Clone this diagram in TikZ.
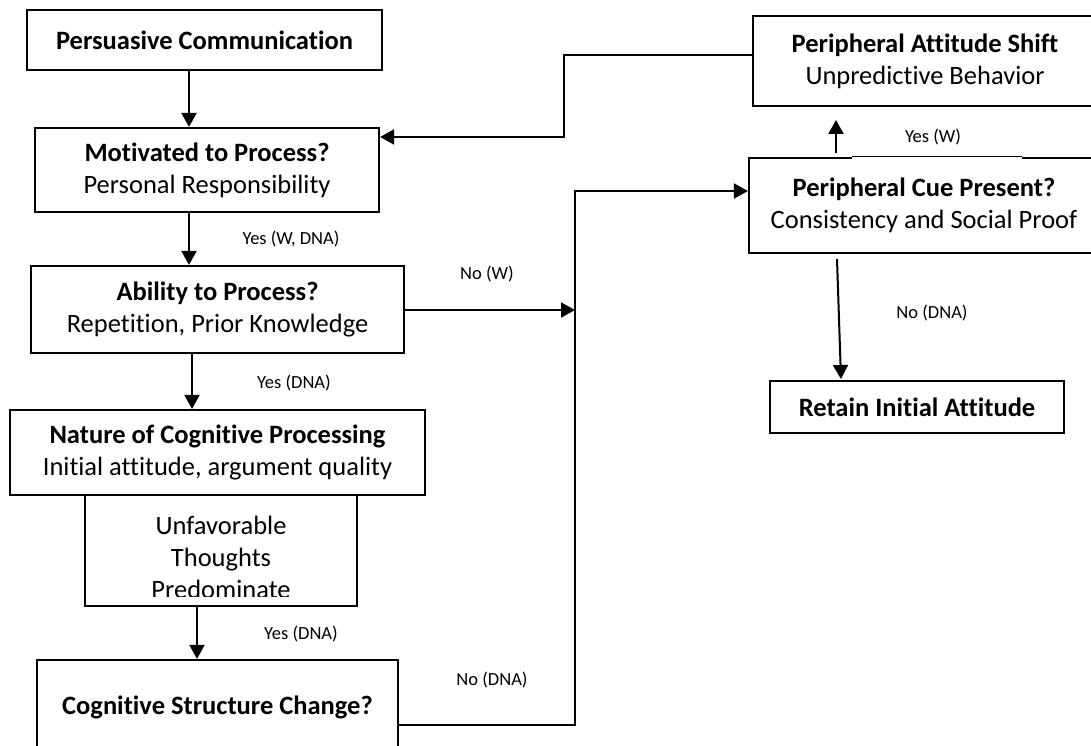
\documentclass[tikz,border=0pt]{standalone}
\usepackage{fontspec}
\setmainfont{Carlito}[Ligatures={NoCommon}]
\usetikzlibrary{arrows.meta}
\tikzset{
  box/.style={draw=black, line width=2.2pt, inner sep=0pt, align=center,
    font=\fontsize{26.5}{32}\selectfont},
  arr/.style={line width=2pt, -{Triangle[length=14pt,width=15pt]}},
  conn/.style={line width=2pt},
  lbl/.style={inner sep=0pt, font=\fontsize{18.5}{22}\selectfont}
}
\begin{document}
\begin{tikzpicture}[x=1pt,y=-1pt]
\useasboundingbox (0,0) rectangle (1091,746);
\clip (0,0) rectangle (1091,746);
% boxes
\node[box, minimum width=355pt, minimum height=60pt] (b1) at (204.5,40) {\textbf{Persuasive Communication}};
\node[box, minimum width=344pt, minimum height=84pt] (b2) at (207,170) {\textbf{Motivated to Process?}\\Personal Responsibility};
\node[box, minimum width=373pt, minimum height=87pt] (b3) at (217.5,309.5) {\textbf{Ability to Process?}\\Repetition, Prior Knowledge};
\node[box, minimum width=415pt, minimum height=85pt] (b4) at (217.5,452.5) {\textbf{Nature of Cognitive Processing}\\Initial attitude, argument quality};
\node[box, minimum width=272pt, minimum height=111pt] (b5) at (221,550.5) {};
\begin{scope}
  \clip (86,497) rectangle (356,596.5);
  \node[box, draw=none] (b5t) at (221,557) {Unfavorable\\Thoughts\\Predominate};
\end{scope}
\node[box, minimum width=361pt, minimum height=94pt] (b6) at (217.5,707) {\textbf{Cognitive Structure Change?}};
\node[box, minimum width=344pt, minimum height=90pt] (shift) at (925,61) {\textbf{Peripheral Attitude Shift}\\Unpredictive Behavior};
\node[box, minimum width=350pt, minimum height=95pt] (cue) at (924,205.5) {\textbf{Peripheral Cue Present?}\\Consistency and Social Proof};
\node[box, minimum width=294pt, minimum height=52pt] (retain) at (917,407) {\textbf{Retain Initial Attitude}};
% thin part of the cue box top border
\fill[white] (852,155.5) rectangle (1022,160);
\draw[line width=0.9pt] (852,156.5) -- (1022,156.5);
% helper coordinates
\coordinate (p1) at (189,0);
\coordinate (p3) at (192,0);
\coordinate (p4) at (197,0);
\coordinate (j1) at (575,725);
\coordinate (j2) at (575,191);
\coordinate (j3) at (575,310);
\coordinate (f1) at (564,55);
\coordinate (f2) at (564,137);
\coordinate (y1) at (836,153);
\coordinate (y2) at (836,120);
\coordinate (n1) at (837,259);
\coordinate (n2) at (841,379);
% connectors
\draw[arr] (b1.south -| p1) -- (b2.north -| p1);
\draw[arr] (b2.south -| p1) -- (b3.north -| p1);
\draw[arr] (b3.south -| p3) -- (b4.north -| p3);
\draw[arr] (b5.south -| p4) -- (b6.north -| p4);
\draw[arr] (b3.east |- j3) -- (j3);
\draw[arr] (b6.east |- j1) -- (j1) -- (j2) -- (cue.west |- j2);
\draw[arr] (shift.west |- f1) -- (f1) -- (f2) -- (b2.east |- f2);
\draw[arr] (y1) -- (y2);
\draw[arr] (n1) -- (n2);
% labels
\node[lbl] (l1) at (291,239) {Yes (W, DNA)};
\node[lbl] (l2) at (294,383) {Yes (DNA)};
\node[lbl] (l3) at (301,634) {Yes (DNA)};
\node[lbl] (l4) at (487,274) {No (W)};
\node[lbl] (l5) at (492,680) {No (DNA)};
\node[lbl] (l6) at (933,137) {Yes (W)};
\node[lbl] (l7) at (932,313) {No (DNA)};
\end{tikzpicture}
\end{document}
